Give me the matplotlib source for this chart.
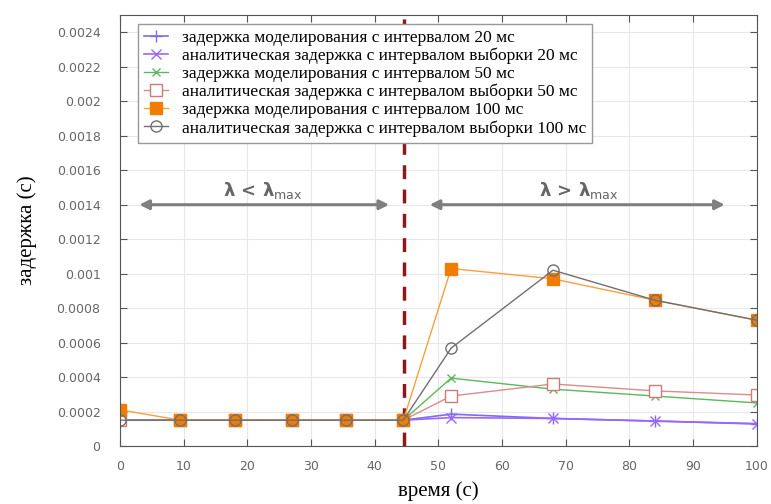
import matplotlib
matplotlib.use("Agg")
import matplotlib.pyplot as plt
from matplotlib.ticker import FuncFormatter
import numpy as np

# arrival rate points (x axis) and delays (s)
x = [0, 9.5, 18, 27, 35.5, 44.5, 52, 68, 84, 100]
sim_20 = [0.00015, 0.00015, 0.00015, 0.00015, 0.00015, 0.00015, 0.000185, 0.00016, 0.000145, 0.000128]
ana_20 = [0.00015, 0.00015, 0.00015, 0.00015, 0.00015, 0.00015, 0.000165, 0.00016, 0.000145, 0.00013]
sim_50 = [0.00015, 0.00015, 0.00015, 0.00015, 0.00015, 0.00015, 0.000394, 0.00033, 0.00029, 0.00025]
ana_50 = [0.00015, 0.00015, 0.00015, 0.00015, 0.00015, 0.00015, 0.00029, 0.00036, 0.00032, 0.000296]
sim_100 = [0.00021, 0.00015, 0.00015, 0.00015, 0.00015, 0.00015, 0.00103, 0.00097, 0.000846, 0.00073]
ana_100 = [0.00015, 0.00015, 0.00015, 0.00015, 0.00015, 0.00015, 0.000568, 0.00102, 0.000846, 0.00073]

labels = [
    "задержка моделирования с интервалом 20 мс",
    "аналитическая задержка с интервалом выборки 20 мс",
    "задержка моделирования с интервалом 50 мс",
    "аналитическая задержка с интервалом выборки 50 мс",
    "задержка моделирования с интервалом 100 мс",
    "аналитическая задержка с интервалом выборки 100 мс",
]

lambda_max = 44.6

fig = plt.figure(figsize=(7.71, 5.04), dpi=100)
ax = fig.add_axes([0.1556, 0.115, 0.826, 0.855])

ax.plot(x, sim_20, color="#7b6cf0", marker="+", markersize=8, lw=1.2, label=labels[0])
ax.plot(x, ana_20, color="#9a66ff", marker="x", markersize=7, lw=1.2, label=labels[1])
ax.plot(x, sim_50, color="#5cb85c", marker="x", markersize=6, lw=1.0, label=labels[2])
ax.plot(x, ana_50, color="#d98c8c", marker="s", markersize=8, lw=1.0,
        markerfacecolor="white", markeredgecolor="#cc7a7a", label=labels[3])
ax.plot(x, sim_100, color="#f7a040", marker="s", markersize=8, lw=1.0,
        markerfacecolor="#f27c00", markeredgecolor="#f27c00", label=labels[4])
ax.plot(x, ana_100, color="#707070", marker="o", markersize=8, lw=1.0,
        markerfacecolor="none", markeredgecolor="#707070", label=labels[5])

# dashed border line at lambda_max
ax.axvline(lambda_max, color="#8b1a1a", ls=(0, (4, 3)), lw=2.5, zorder=1)

# region arrows
arrow_kw = dict(arrowstyle="<|-|>", color="#7f7f7f", lw=2.2, mutation_scale=14)
ax.annotate("", xy=(2.6, 0.0014), xytext=(42.7, 0.0014), arrowprops=arrow_kw)
ax.annotate("", xy=(48.2, 0.0014), xytext=(95.4, 0.0014), arrowprops=arrow_kw)
ax.text(22.5, 0.00148, r"$\mathbf{\lambda}$ < $\mathbf{\lambda}_{\mathrm{max}}$", ha="center",
        va="center", fontsize=13, color="#666666", fontweight="bold")
ax.text(72, 0.00148, r"$\mathbf{\lambda}$ > $\mathbf{\lambda}_{\mathrm{max}}$", ha="center",
        va="center", fontsize=13, color="#666666", fontweight="bold")

ax.set_xlim(0, 100)
ax.set_ylim(0, 0.0025)
ax.set_xticks(np.arange(0, 101, 10))
ax.set_yticks(np.arange(0, 0.00241, 0.0002))
ax.yaxis.set_major_formatter(FuncFormatter(lambda v, p: "{:g}".format(round(v, 6))))
ax.tick_params(direction="in", top=True, right=True, labelsize=9, labelcolor="#666666",
               color="#555555", length=5)
ax.tick_params(axis="y", pad=14)
ax.tick_params(axis="x", pad=10)
ax.grid(True, color="#e8e8e8", lw=0.8)
ax.set_axisbelow(True)
for s in ax.spines.values():
    s.set_color("#555555")

ax.set_xlabel("время (с)", family="Liberation Serif", fontsize=15, labelpad=6)
ax.set_ylabel("задержка (с)", family="Liberation Serif", fontsize=15, labelpad=14)

leg = ax.legend(loc="upper left", bbox_to_anchor=(0.014, 1.0), prop={"family": "Liberation Serif", "size": 12.5},
                handlelength=1.4, labelspacing=0.1, borderpad=0.35, fancybox=False,
                edgecolor="#999999", framealpha=1)

plt.savefig("out.png", dpi=100)
plt.close()
